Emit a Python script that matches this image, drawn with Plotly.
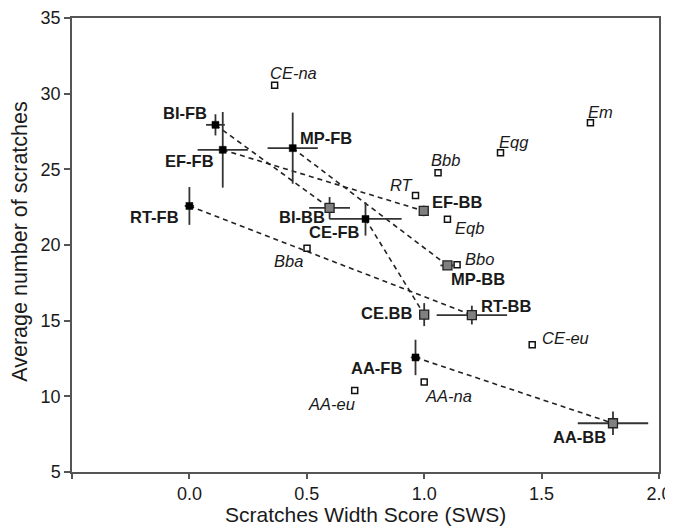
import plotly.graph_objects as go

# ---- data ----
fb_names = ["BI-FB", "EF-FB", "MP-FB", "RT-FB", "CE-FB", "AA-FB"]
fb_x = [0.111, 0.142, 0.44, 0.0, 0.75, 0.963]
fb_y = [27.94, 26.29, 26.40, 22.58, 21.72, 12.57]
fb_xerr = [0.04, 0.107, 0.107, 0.02, 0.154, 0.02]
fb_yerr = [0.70, 2.50, 2.35, 1.25, 1.10, 1.17]

bb_names = ["BI-BB", "EF-BB", "MP-BB", "RT-BB", "CE.BB", "AA-BB"]
bb_x = [0.597, 0.998, 1.099, 1.203, 1.0, 1.804]
bb_y = [22.45, 22.25, 18.65, 15.37, 15.40, 8.22]
bb_xerr = [0.087, 0.02, 0.03, 0.15, 0.02, 0.15]
bb_yerr = [0.72, 0.35, 0.25, 0.62, 0.76, 0.77]

sp_names = ["CE-na", "Em", "Eqg", "Bbb", "RT", "Eqb", "Bba", "Bbo", "CE-eu", "AA-na", "AA-eu"]
sp_x = [0.363, 1.708, 1.325, 1.059, 0.963, 1.099, 0.501, 1.14, 1.46, 1.0, 0.704]
sp_y = [30.56, 28.07, 26.10, 24.78, 23.27, 21.70, 19.78, 18.70, 13.41, 10.94, 10.38]

x_tickvals = [-0.5, 0.0, 0.5, 1.0, 1.5, 2.0]
x_ticktext = ["", "0.0", "0.5", "1.0", "1.5", "2.0"]
y_tickvals = [5, 10, 15, 20, 25, 30, 35]

x_title = "Scratches Width Score (SWS)"
y_title = "Average number of scratches"

# label placement (anchor, xshift px, yshift px)
label_place = {
    "BI-FB": ("right", -6, 12), "EF-FB": ("right", -7, -11), "MP-FB": ("left", 5, 10),
    "RT-FB": ("right", -8, -11), "CE-FB": ("right", -5, -13), "AA-FB": ("right", -12, -11),
    "BI-BB": ("right", -3, -9), "EF-BB": ("left", 6, 9), "MP-BB": ("left", 2, -14),
    "RT-BB": ("left", 7, 9), "CE.BB": ("right", -10, 2), "AA-BB": ("right", -5, -14),
    "CE-na": ("left", -7, 12), "Em": ("left", -4, 11), "Eqg": ("left", -4, 11),
    "Bbb": ("left", -9, 13), "RT": ("right", 0, 11), "Eqb": ("left", 6, -9),
    "Bba": ("right", -2, -13), "Bbo": ("left", 6, 6), "CE-eu": ("left", 8, 7),
    "AA-na": ("left", -1, -14), "AA-eu": ("right", 2, -13),
}

FONT = "Liberation Sans, Arial, sans-serif"
TXT = "#1a1a1a"

fig = go.Figure()

# dashed connecting lines FB -> BB
lx, ly = [], []
for i in range(len(fb_x)):
    lx += [fb_x[i], bb_x[i], None]
    ly += [fb_y[i], bb_y[i], None]
fig.add_trace(go.Scatter(x=lx, y=ly, mode="lines",
                         line=dict(color="#222", width=1.6, dash="5px,4px"),
                         hoverinfo="skip", showlegend=False))

# open squares
fig.add_trace(go.Scatter(x=sp_x, y=sp_y, mode="markers",
                         marker=dict(symbol="square", size=6, color="white",
                                     line=dict(color="#111", width=1.5)),
                         showlegend=False))

# FB points
fig.add_trace(go.Scatter(x=fb_x, y=fb_y, mode="markers",
                         error_x=dict(type="data", array=fb_xerr, width=0, color="#333", thickness=1.8),
                         error_y=dict(type="data", array=fb_yerr, width=0, color="#333", thickness=1.8),
                         marker=dict(symbol="square", size=7, color="#000",
                                     line=dict(color="#000", width=0.5)),
                         showlegend=False))

# BB points
fig.add_trace(go.Scatter(x=bb_x, y=bb_y, mode="markers",
                         error_x=dict(type="data", array=bb_xerr, width=0, color="#333", thickness=1.8),
                         error_y=dict(type="data", array=bb_yerr, width=0, color="#333", thickness=1.8),
                         marker=dict(symbol="square", size=9, color="#808080",
                                     line=dict(color="#222", width=1.3)),
                         showlegend=False))

annotations = []
for names, xs, ys, bold in [(fb_names, fb_x, fb_y, True), (bb_names, bb_x, bb_y, True),
                            (sp_names, sp_x, sp_y, False)]:
    for n, x, y in zip(names, xs, ys):
        anc, dx, dy = label_place[n]
        text = f"<b>{n}</b>" if bold else f"<i>{n}</i>"
        annotations.append(dict(x=x, y=y, xref="x", yref="y", text=text, showarrow=False,
                                xanchor=anc, yanchor="middle", xshift=dx, yshift=dy,
                                font=dict(family=FONT, size=16.5, color=TXT)))

# axis titles
annotations.append(dict(x=0.5, y=-0.093, xref="paper", yref="paper", text=x_title,
                        showarrow=False, xanchor="center", yanchor="middle",
                        font=dict(family=FONT, size=21, color=TXT)))
annotations.append(dict(x=-0.088, y=0.508, xref="paper", yref="paper", text=y_title,
                        showarrow=False, xanchor="center", yanchor="middle", textangle=-90,
                        font=dict(family=FONT, size=21.5, color=TXT)))

# page body adds an 8px offset; size the figure so the plot lands where the reference has it
fig.update_layout(
    width=665, height=522,
    margin=dict(l=64, r=14, t=10, b=58, autoexpand=False),
    paper_bgcolor="white", plot_bgcolor="white",
    font=dict(family=FONT, color=TXT),
    annotations=annotations,
    xaxis=dict(range=[-0.5, 2.0], tickvals=x_tickvals, ticktext=x_ticktext,
               automargin=False,
               showgrid=False, zeroline=False, showline=True, mirror=True,
               linecolor="#555", linewidth=1.5, ticks="outside", ticklen=5,
               tickcolor="#555", tickwidth=1.5,
               tickfont=dict(family=FONT, size=18, color=TXT)),
    yaxis=dict(range=[5, 35], tickvals=y_tickvals, automargin=False,
               showgrid=False, zeroline=False, showline=True, mirror=True,
               linecolor="#555", linewidth=1.5, ticks="outside", ticklen=6,
               tickcolor="#555", tickwidth=1.5,
               tickfont=dict(family=FONT, size=18, color=TXT)),
)

fig.write_html("out.html")
